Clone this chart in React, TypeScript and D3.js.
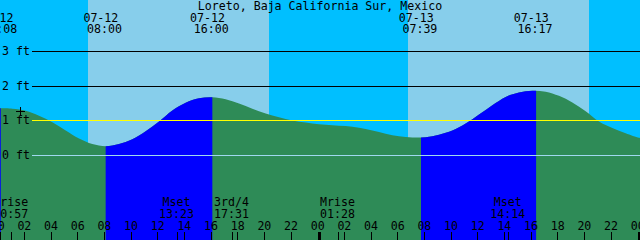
import React from 'react';
import * as d3 from 'd3';

const W = 640;
const H = 240;
const title = 'Loreto, Baja California Sur, Mexico';

// tide height (ft) at each hour from 07-12 00:00 to 07-14 00:00
const tideHeights = [
  1.36, 1.35, 1.29, 1.15, 0.96, 0.72, 0.49, 0.33, 0.27, 0.33, 0.47, 0.70,
  0.98, 1.30, 1.52, 1.65, 1.68, 1.62, 1.50, 1.35, 1.21, 1.10, 1.01, 0.95,
  0.90, 0.875, 0.85, 0.80, 0.72, 0.63, 0.555, 0.52, 0.53, 0.60, 0.72, 0.92,
  1.18, 1.45, 1.69, 1.82, 1.87, 1.84, 1.72, 1.53, 1.28, 0.98, 0.79, 0.64,
  0.51,
];

const tideEvents = [
  { t: 0.133, type: 'high', date: '07-12', time: '00:08' },
  { t: 8.0, type: 'low', date: '07-12', time: '08:00' },
  { t: 16.0, type: 'high', date: '07-12', time: '16:00' },
  { t: 31.65, type: 'low', date: '07-13', time: '07:39' },
  { t: 40.283, type: 'high', date: '07-13', time: '16:17' },
];

const sunrises = [6.675, 30.675];
const sunsets = [20.25, 44.25];

const moonEvents = [
  { t: 0.95, label: 'Mrise', time: '00:57' },
  { t: 13.383, label: 'Mset', time: '13:23' },
  { t: 17.517, label: '3rd/4', time: '17:31' },
  { t: 25.467, label: 'Mrise', time: '01:28' },
  { t: 38.233, label: 'Mset', time: '14:14' },
];

const depthLevels = [0, 1, 2, 3];
const depthColors = ['#a0d8ef', '#ffff00', '#000000', '#000000'];
const hourTicks = [0, 2, 4, 6, 8, 10, 12, 14, 16, 18, 20, 22, 24, 26, 28, 30, 32, 34, 36, 38, 40, 42, 44, 46, 48];
const nowMark = { t: 1.575, v: 1.28 };

const FONT = '"DejaVu Sans Mono", monospace';
const FS = 11.6;

export default function App() {
  const x = d3.scaleLinear().domain([0.075, 48.075]).range([0, W]);
  const y = d3.scaleLinear().domain([0, 3]).range([155.5, 51.5]);

  const pts: [number, number][] = tideHeights.map((v, i) => [x(i), y(v)]);
  pts.push([W + 2, y(tideHeights[tideHeights.length - 1])]);
  const area = d3
    .area<[number, number]>()
    .x((d) => d[0])
    .y0(H)
    .y1((d) => d[1])
    .curve(d3.curveCatmullRom.alpha(0.5));
  const areaPath = area(pts) || '';

  // rising intervals: from previous low (or start) to each high
  const rising: [number, number][] = [];
  tideEvents.forEach((e, i) => {
    if (e.type === 'high') {
      const prev = i > 0 ? tideEvents[i - 1].t : -2;
      rising.push([prev, e.t]);
    }
  });
  const last = tideEvents[tideEvents.length - 1];
  if (last.type === 'low') rising.push([last.t, 50]);

  const lineY = (v: number) => Math.floor(y(v)) + 0.5;

  return (
    <svg
      width={W}
      height={H}
      style={{ position: 'absolute', left: 0, top: 0, display: 'block' }}
      fontFamily={FONT}
      fontSize={FS}
    >
      <defs>
        <clipPath id="risingClip">
          {rising.map(([a, b], i) => (
            <rect key={i} x={x(a)} y={0} width={x(b) - x(a)} height={H} />
          ))}
        </clipPath>
      </defs>
      <rect x={0} y={0} width={W} height={H} fill="#00bfff" />
      {sunrises.map((sr, i) => (
        <rect key={i} x={x(sr)} y={0} width={x(sunsets[i]) - x(sr)} height={H} fill="#87ceeb" />
      ))}
      <path d={areaPath} fill="#2e8b57" />
      <path d={areaPath} fill="#0000ff" clipPath="url(#risingClip)" />

      {depthLevels.map((v, i) => (
        <g key={v}>
          <line x1={32} x2={W} y1={lineY(v)} y2={lineY(v)} stroke={depthColors[i]} strokeWidth={1} shapeRendering="crispEdges" />
          <text x={2} y={lineY(v) + 3.5} fill="#000">{`${v} ft`}</text>
        </g>
      ))}

      <g stroke="#000" strokeWidth={1} shapeRendering="crispEdges">
        <line x1={x(nowMark.t) - 4.5} x2={x(nowMark.t) + 4.5} y1={Math.floor(y(nowMark.v)) + 0.5} y2={Math.floor(y(nowMark.v)) + 0.5} />
        <line x1={Math.floor(x(nowMark.t)) + 0.5} x2={Math.floor(x(nowMark.t)) + 0.5} y1={y(nowMark.v) - 4.5} y2={y(nowMark.v) + 4.5} />
      </g>

      <text x={W / 2} y={9.5} textAnchor="middle" fill="#000">{title}</text>
      {tideEvents.map((e, i) => (
        <g key={i} textAnchor="middle" fill="#000">
          <text x={x(e.t) - 4.8} y={21.7}>{e.date}</text>
          <text x={x(e.t) - 1.1} y={33.3}>{e.time}</text>
        </g>
      ))}

      {moonEvents.map((m, i) => (
        <g key={i} textAnchor="middle" fill="#000">
          <text x={x(m.t) - 1} y={205.6}>{m.label}</text>
          <text x={x(m.t) - 1} y={217.6}>{m.time}</text>
          <line x1={x(m.t)} x2={x(m.t)} y1={232} y2={H} stroke="#000" shapeRendering="crispEdges" />
        </g>
      ))}

      {hourTicks.map((h) => {
        const tx = x(h) - 1.3;
        const midnight = h % 24 === 0;
        return (
          <g key={h}>
            <text x={tx} y={230} textAnchor="middle" fill="#000">{d3.format('02d')(h % 24)}</text>
            {midnight ? (
              <rect x={x(h) - 1.5} y={232} width={3} height={H - 232} fill="#000" shapeRendering="crispEdges" />
            ) : (
              <line x1={tx} x2={tx} y1={232} y2={H} stroke="#000" shapeRendering="crispEdges" />
            )}
          </g>
        );
      })}
    </svg>
  );
}
